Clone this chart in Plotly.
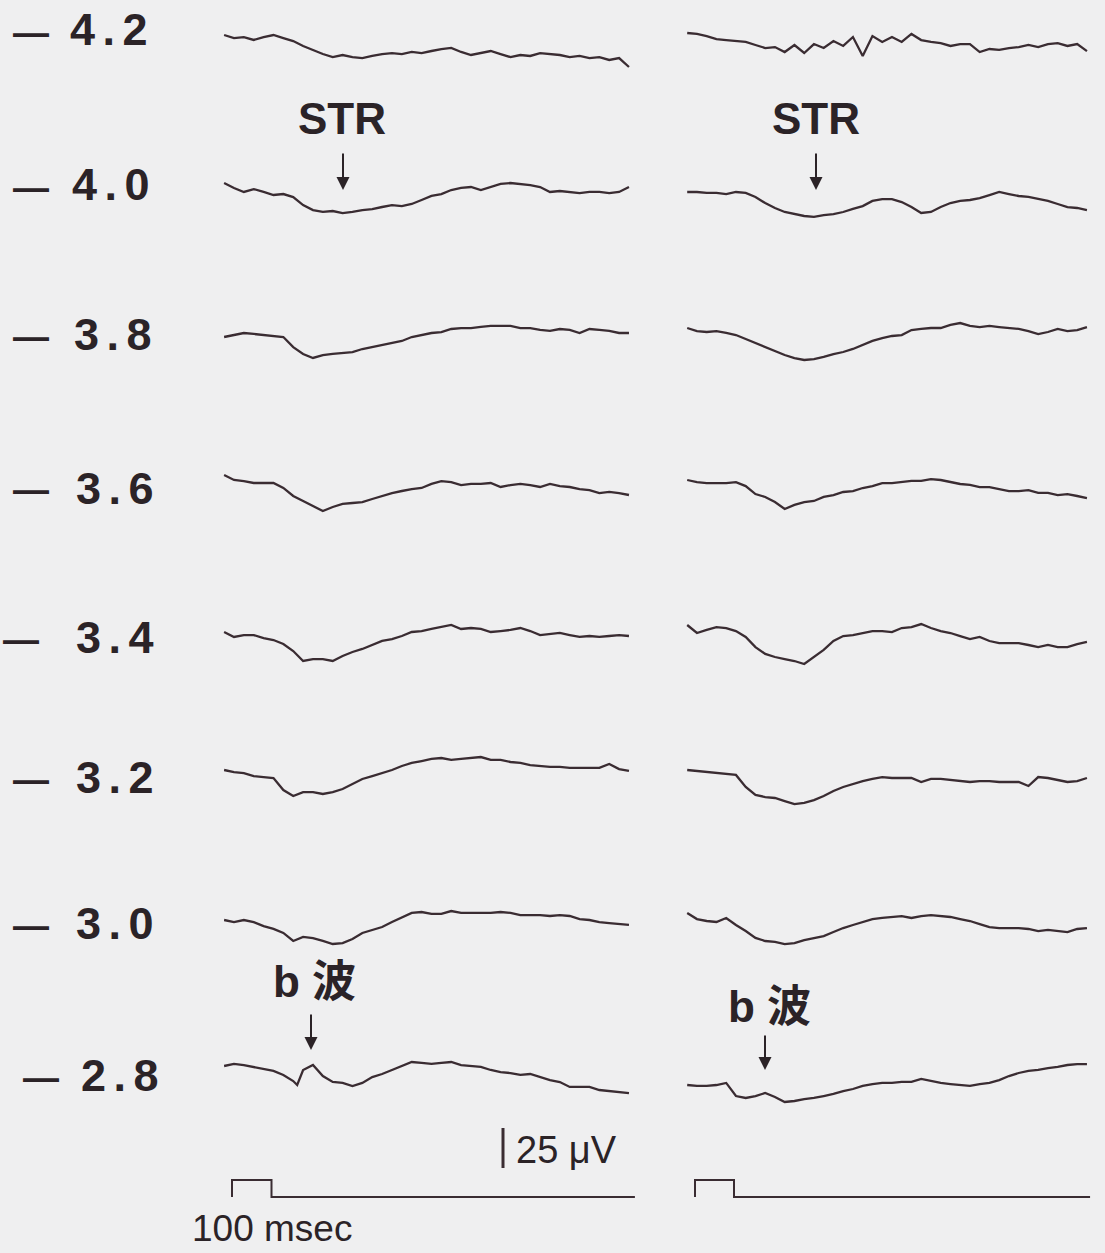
import plotly.graph_objects as go

# ---------------- data ----------------
# sample times of every sweep, ms after stimulus onset
TIME_MS = [-20, 5, 30, 55, 80, 105, 130, 155, 180, 205, 230, 255, 280, 305,
           330, 355, 380, 405, 430, 455, 480, 505, 530, 555, 580, 605, 630,
           655, 680, 705, 730, 755, 780, 805, 830, 855, 880, 905, 930, 955,
           980, 1005]
# left -2.8 sweep has one extra sample at the b-wave notch
TIME_MS_L28 = [-20, 5, 30, 55, 80, 105, 130, 155, 165, 180, 205, 230, 255, 280,
               305, 330, 355, 380, 405, 430, 455, 480, 505, 530, 555, 580, 605,
               630, 655, 680, 705, 730, 755, 780, 805, 830, 855, 880, 905, 930,
               955, 980, 1005]

LOG_INTENSITY = ["4.2", "4.0", "3.8", "3.6", "3.4", "3.2", "3.0", "2.8"]

# responses in microvolts (relative to the start of each sweep)
L42 = [0, -1.9, -1.3, -3.1, -1.3, 0, -1.9, -3.8, -6.9, -9.4, -11.9, -13.8, -12.5, -13.8,
       -14.4, -13.1, -11.9, -11.3, -11.9, -10.6, -11.3, -10, -8.8, -8.1, -10.6, -12.5,
       -11.3, -10, -11.9, -13.8, -12.5, -13.1, -11.3, -11.9, -12.5, -13.8, -13.1, -14.4,
       -13.8, -15.6, -14.4, -20]
R42 = [0, -0.6, -1.9, -3.8, -4.4, -5, -5.6, -7.5, -9.4, -8.8, -11.9, -7.5, -12.5, -6.9,
       -9.4, -5, -8.1, -2.5, -14.4, -1.9, -5.6, -2.5, -5.6, -0.6, -4.4, -5.6, -6.3, -8.1,
       -6.9, -6.9, -11.9, -10, -10.6, -9.4, -8.8, -7.5, -8.8, -6.9, -6.3, -8.1, -6.9, -11.3]
L40 = [0, -3.1, -5.6, -3.8, -5.6, -7.5, -6.9, -8.8, -13.8, -16.9, -18.1, -17.5, -18.8,
       -18.1, -16.9, -16.3, -15, -13.8, -14.4, -13.1, -10.6, -8.1, -6.9, -4.4, -3.1, -2.5,
       -4.4, -2.5, -0.6, 0, -0.6, -1.3, -2.5, -5.6, -5, -5.6, -6.3, -5.6, -5.6, -6.3, -5.6,
       -2.5]
R40 = [0, 0, -0.6, -0.6, -1.3, 0, -0.6, -3.1, -6.9, -10, -12.5, -13.8, -15, -15.6, -14.4,
       -13.8, -12.5, -10.6, -8.8, -5.6, -4.4, -4.4, -6.3, -9.4, -13.1, -12.5, -9.4, -6.9,
       -5.6, -5, -3.8, -1.9, 0, -1.3, -2.5, -3.1, -4.4, -5.6, -7.5, -9.4, -10, -11.3]
L38 = [0, 1.3, 2.5, 1.9, 1.3, 0.6, 0, -6.3, -10.6, -13.1, -11.3, -10.6, -10, -9.4, -7.5,
       -6.3, -5, -3.8, -2.5, 0, 1.3, 2.5, 3.1, 5, 5.6, 5.6, 6.3, 6.9, 6.9, 6.9, 5.6, 5.6,
       4.4, 3.8, 5, 4.4, 2.5, 5, 4.4, 3.8, 2.5, 2.5]
R38 = [0, -1.9, -2.5, -1.9, -3.1, -4.4, -6.9, -9.4, -11.9, -14.4, -16.9, -18.8, -20,
       -19.4, -18.1, -16.3, -15, -13.1, -10.6, -8.1, -6.3, -5, -4.4, -1.3, -0.6, 0, 0, 1.9,
       3.1, 1.3, 0.6, 1.3, 0.6, 0, -0.6, -1.9, -3.8, -2.5, -0.6, -1.9, -1.3, 0.6]
L36 = [0, -3.1, -3.8, -5, -5, -5, -8.1, -13.1, -16.3, -19.4, -22.5, -20, -18.1, -17.5,
       -16.9, -15, -13.1, -11.3, -10, -8.8, -8.1, -5.6, -3.8, -4.4, -6.3, -5.6, -5.6, -5,
       -7.5, -6.3, -5.6, -6.3, -7.5, -5.6, -6.9, -7.5, -8.8, -9.4, -11.3, -10.6, -11.3,
       -12.5]
R36 = [0, -1.3, -1.9, -1.9, -1.9, -1.3, -3.8, -8.8, -10.6, -13.8, -18.1, -15.6, -13.8,
       -13.1, -10.6, -9.4, -7.5, -6.9, -5, -3.8, -1.9, -1.9, -1.3, -0.6, -0.6, 0.6, 0,
       -1.3, -2.5, -3.1, -4.4, -4.4, -5.6, -6.9, -6.9, -6.3, -8.1, -8.1, -9.4, -8.8, -10,
       -11.3]
L34 = [0, -3.1, -1.9, -1.9, -3.8, -5, -7.5, -11.9, -18.1, -16.9, -16.9, -18.1, -15, -12.5,
       -10.6, -8.1, -5.6, -4.4, -2.5, 0, 0.6, 1.9, 3.1, 4.4, 1.9, 2.5, 1.9, 0, 0.6, 1.3,
       2.5, 0.6, -1.9, -1.3, -0.6, -1.9, -3.1, -2.5, -3.1, -2.5, -1.9, -2.5]
R34 = [0, -5, -3.1, -1.3, -1.9, -3.8, -7.5, -13.8, -18.1, -20, -21.3, -22.5, -24.4, -20,
       -15.6, -10, -6.9, -6.3, -5, -3.8, -3.8, -4.4, -1.9, -1.3, 0.6, -1.9, -3.8, -5, -6.9,
       -8.8, -7.5, -10, -11.3, -11.3, -11.3, -12.5, -13.8, -12.5, -13.8, -13.8, -11.9,
       -10.6]
L32 = [0, -1.3, -1.9, -3.8, -4.4, -5, -12.5, -16.3, -13.8, -13.8, -15, -13.8, -11.9, -8.8,
       -5.6, -3.8, -1.9, 0, 2.5, 4.4, 5.6, 6.9, 7.5, 6.3, 6.9, 7.5, 8.1, 6.3, 6.3, 5, 4.4,
       3.1, 2.5, 1.9, 1.9, 1.3, 1.3, 1.3, 1.3, 3.8, 0.6, -0.6]
R32 = [0, -0.6, -1.3, -1.9, -2.5, -3.1, -10.6, -15.6, -16.9, -17.5, -19.4, -21.3, -20.6,
       -18.8, -16.3, -13.1, -10.6, -8.8, -6.9, -5.6, -4.4, -5, -5, -5, -7.5, -5.6, -5.6,
       -6.3, -6.9, -7.5, -6.9, -6.9, -7.5, -7.5, -7.5, -10, -4.4, -5, -6.3, -7.5, -6.9, -5]
L30 = [0, -1.3, 0, -1.3, -3.8, -5.6, -8.1, -13.1, -10.6, -11.3, -13.1, -15, -14.4, -11.9,
       -8.1, -6.3, -4.4, -1.3, 1.3, 4.4, 5, 3.8, 3.8, 5.6, 4.4, 4.4, 4.4, 4.4, 5, 4.4, 3.1,
       3.1, 3.1, 2.5, 3.1, 2.5, 0.6, 0, -1.3, -1.9, -2.5, -3.1]
R30 = [0, -3.8, -5, -5.6, -3.1, -7.5, -11.3, -15.6, -17.5, -18.1, -19.4, -18.8, -16.9,
       -15.6, -14.4, -11.9, -9.4, -7.5, -5.6, -3.8, -3.1, -2.5, -1.9, -3.1, -1.9, -1.3,
       -1.9, -2.5, -3.8, -5, -6.9, -8.8, -9.4, -9.4, -9.4, -10, -11.3, -10.6, -11.3, -11.9,
       -10, -9.4]
L28 = [0, 1.3, 0.6, -0.6, -1.9, -3.1, -5.6, -9.4, -11.9, -2.5, 0.6, -6.3, -10, -10.6,
       -12.5, -10.6, -6.9, -5, -2.5, 0, 2.5, 1.9, 1.3, 1.9, 2.5, 0.6, 0, -0.6, -2.5, -3.8,
       -4.4, -5.6, -5, -6.9, -8.8, -10, -13.1, -13.1, -13.1, -15, -15.6, -16.3, -16.9]
R28 = [0, -0.6, -0.6, 0, 1.3, -6.9, -8.1, -6.9, -5, -7.5, -10.6, -10, -8.8, -8.1, -6.9,
       -5.6, -3.8, -2.5, -0.6, 0.6, 1.3, 1.3, 1.9, 1.9, 3.8, 2.5, 1.3, 0.6, 0, -0.6, 0.6,
       1.3, 3.1, 5.6, 7.5, 8.8, 9.4, 10.6, 11.3, 12.5, 13.1, 13.1]

STIM_ONSET_MS = 0
STIM_DURATION_MS = 100
SWEEP_END_MS = [1020, 1013]
SCALE_UV = 25

# ---------------- layout (positions, sizes, styles) ----------------
W, H = 1105, 1253
PX_PER_UV = 1.6
BG = "#efeff0"
INK = "#3a2c32"
TXT = "#2b2327"
LEFT_REF_PX = [35, 183, 337, 475, 632, 770, 920, 1066]
RIGHT_REF_PX = [33, 192, 328, 480, 625, 770, 913, 1085]
LABEL_Y_PX = [30, 185, 335, 488, 637, 777, 923, 1075]
LABEL_RIGHT_PX = [150, 152, 154, 156, 156, 156, 156, 161]
DASH_LEFT_PX = [11, 11, 11, 11, 1, 11, 11, 21]
L_ORIGIN, L_SCALE = 232, 0.395   # px of t=0, px per ms (left panel)
R_ORIGIN, R_SCALE = 695, 0.39    # right panel
SPLIT = 650
STIM_BASE_PX, STIM_TOP_PX = 1197, 1180
SCALE_X_PX, SCALE_BOTTOM_PX = 503, 1168


def yval(ref_px):
    return -ref_px / PX_PER_UV


def px(x):
    return x / W


def py(y):
    return 1 - y / H


left = [(TIME_MS, L42), (TIME_MS, L40), (TIME_MS, L38), (TIME_MS, L36),
        (TIME_MS, L34), (TIME_MS, L32), (TIME_MS, L30), (TIME_MS_L28, L28)]
right = [R42, R40, R38, R36, R34, R32, R30, R28]

fig = go.Figure()
line = dict(color=INK, width=2.3)
for i, (t, v) in enumerate(left):
    base = yval(LEFT_REF_PX[i])
    fig.add_trace(go.Scatter(x=t, y=[base + a for a in v], mode="lines",
                             line=line, xaxis="x", yaxis="y", hoverinfo="skip"))
for i, v in enumerate(right):
    base = yval(RIGHT_REF_PX[i])
    fig.add_trace(go.Scatter(x=TIME_MS, y=[base + a for a in v], mode="lines",
                             line=line, xaxis="x2", yaxis="y", hoverinfo="skip"))

# stimulus markers
sb, st = yval(STIM_BASE_PX), yval(STIM_TOP_PX)
for ax, end in (("x", SWEEP_END_MS[0]), ("x2", SWEEP_END_MS[1])):
    t0, t1 = STIM_ONSET_MS, STIM_ONSET_MS + STIM_DURATION_MS
    fig.add_trace(go.Scatter(x=[t0, t0, t1, t1, end], y=[sb, st, st, sb, sb],
                             mode="lines", line=dict(color=INK, width=2),
                             xaxis=ax, yaxis="y", hoverinfo="skip"))

# 25 uV calibration bar
scale_t = (SCALE_X_PX - L_ORIGIN) / L_SCALE
yb = yval(SCALE_BOTTOM_PX)
fig.add_trace(go.Scatter(x=[scale_t, scale_t], y=[yb, yb + SCALE_UV], mode="lines",
                         line=dict(color=INK, width=3), xaxis="x", yaxis="y",
                         hoverinfo="skip"))

ann = []
BOLD = "Liberation Sans, Arial, sans-serif"
for i, lab in enumerate(LOG_INTENSITY):
    ann.append(dict(x=px(DASH_LEFT_PX[i]), y=py(LABEL_Y_PX[i] + 2), xref="paper", yref="paper",
                    text="<b>—</b>", showarrow=False, xanchor="left", yanchor="middle",
                    font=dict(family=BOLD, size=36, color=TXT)))
    ann.append(dict(x=px(LABEL_RIGHT_PX[i]), y=py(LABEL_Y_PX[i]), xref="paper", yref="paper",
                    text="<b>" + lab.replace(".", "\u2006.\u2006") + "</b>", showarrow=False,
                    xanchor="right", yanchor="middle",
                    font=dict(family=BOLD, size=45, color=TXT)))

for cx in (342, 816):
    ann.append(dict(x=px(cx), y=py(119), xref="paper", yref="paper", text="<b>STR</b>",
                    showarrow=False, xanchor="center", yanchor="middle",
                    font=dict(family=BOLD, size=44, color=TXT)))
for lx, cy in ((271, 981), (726, 1006)):
    ann.append(dict(x=px(lx), y=py(cy), xref="paper", yref="paper", text="<b>b 波</b>",
                    showarrow=False, xanchor="left", yanchor="middle",
                    font=dict(family="Liberation Sans, Noto Sans CJK JP, sans-serif",
                              size=44, color=TXT)))
for tx, ty, length in ((343, 190, 38), (816, 190, 38), (311, 1050, 37), (765, 1070, 36)):
    ann.append(dict(x=px(tx), y=py(ty), xref="paper", yref="paper", text="",
                    showarrow=True, ax=0, ay=-length, arrowhead=2, arrowsize=1.3,
                    arrowwidth=2, arrowcolor=TXT))

ann.append(dict(x=px(514), y=py(1150), xref="paper", yref="paper", text="25 μV",
                showarrow=False, xanchor="left", yanchor="middle",
                font=dict(family="Liberation Sans, Arial, sans-serif", size=38, color=TXT)))
ann.append(dict(x=px(190), y=py(1228), xref="paper", yref="paper", text="100 msec",
                showarrow=False, xanchor="left", yanchor="middle",
                font=dict(family="Liberation Sans, Arial, sans-serif", size=37, color=TXT)))

fig.update_layout(
    width=W, height=H, margin=dict(l=0, r=0, t=0, b=0),
    paper_bgcolor=BG, plot_bgcolor=BG, showlegend=False,
    xaxis=dict(domain=[0, SPLIT / W], range=[(0 - L_ORIGIN) / L_SCALE, (SPLIT - L_ORIGIN) / L_SCALE],
               visible=False, fixedrange=True),
    xaxis2=dict(domain=[SPLIT / W, 1], range=[(SPLIT - R_ORIGIN) / R_SCALE, (W - R_ORIGIN) / R_SCALE],
                visible=False, anchor="y", fixedrange=True),
    yaxis=dict(domain=[0, 1], range=[-H / PX_PER_UV, 0], visible=False, fixedrange=True),
    annotations=ann,
)

fig.write_html(
    "out.html",
    config={"displayModeBar": False},
    post_script="document.body.style.margin='0';document.body.style.padding='0';"
                "document.body.style.overflow='hidden';document.body.style.background='" + BG + "';",
)
